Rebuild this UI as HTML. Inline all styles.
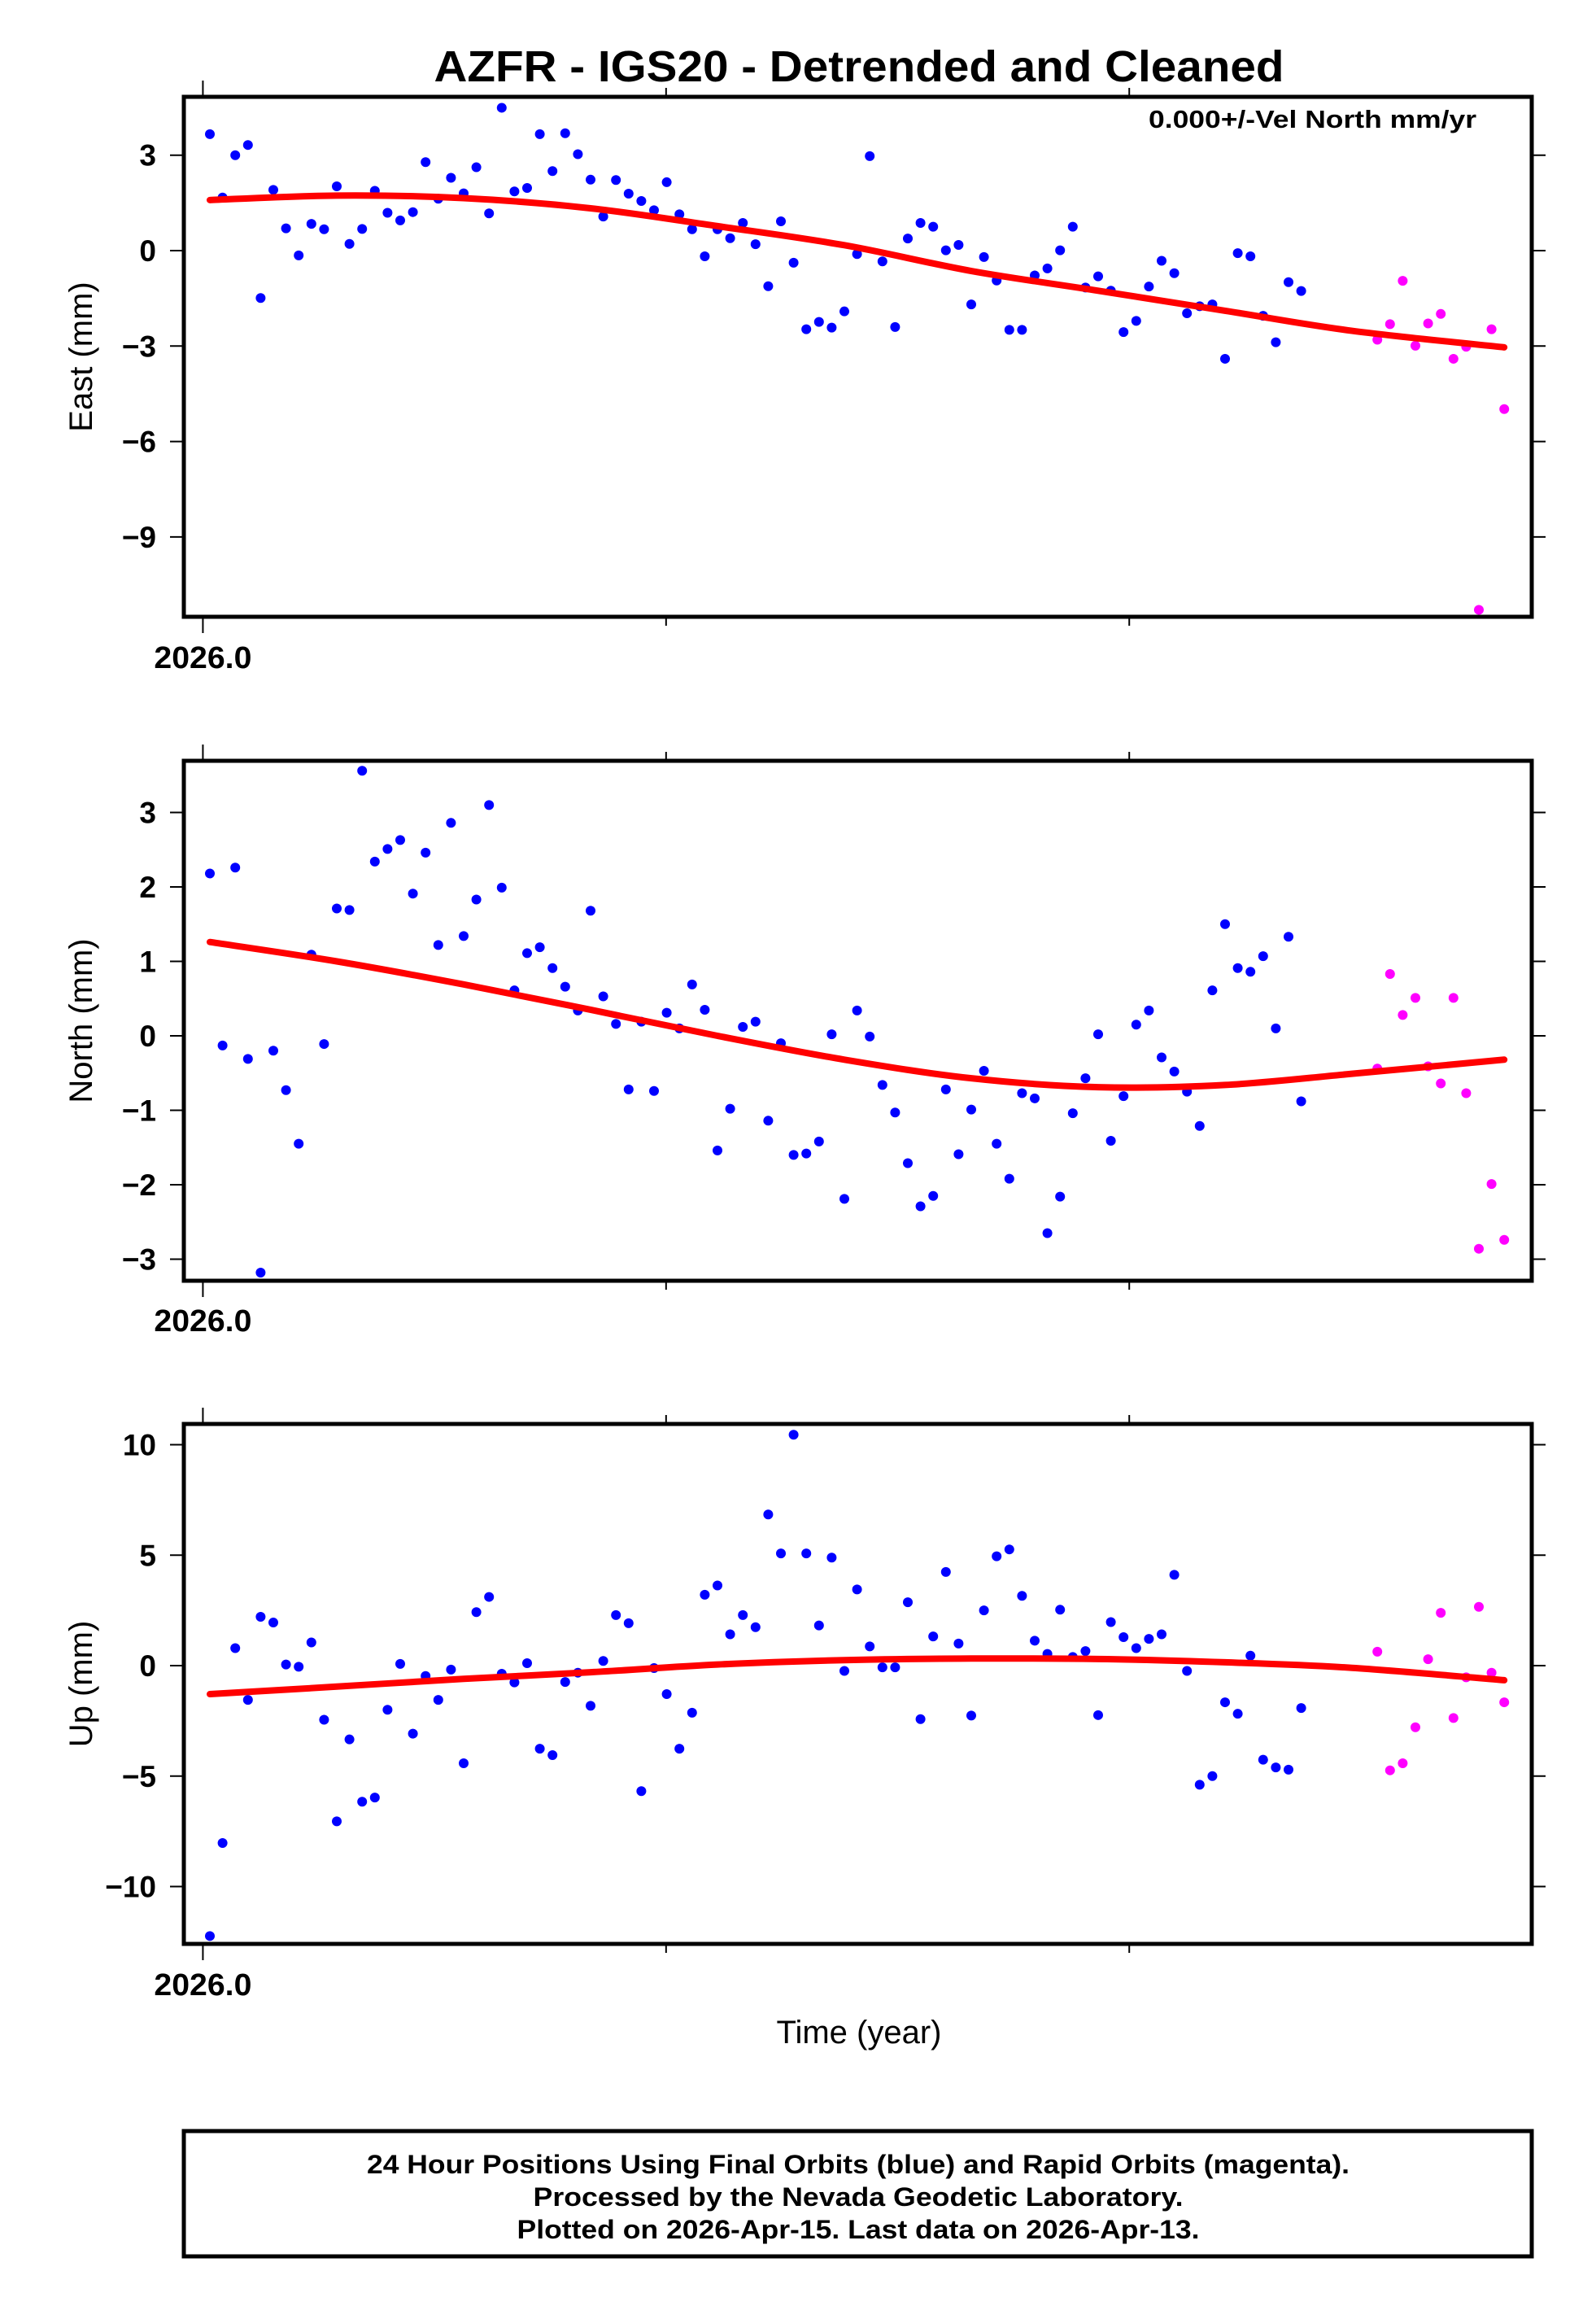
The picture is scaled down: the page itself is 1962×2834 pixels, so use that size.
<!DOCTYPE html>
<html><head><meta charset="utf-8">
<style>
html,body{margin:0;padding:0;background:#fff;}
svg{display:block;font-family:"Liberation Sans",Arial,sans-serif;}
</style></head>
<body>
<svg id="chart" width="1962" height="2834" viewBox="0 0 1962 2834" xmlns="http://www.w3.org/2000/svg"></svg>
<script>
// ---- data (day index since 2026.0) ----
const finalDays = [];
for (let d = 0; d <= 86; d++) finalDays.push(d);
const rapidDays = [92,93,94,95,96,97,98,99,100,101,102];

const eastFinal = [3.66,1.67,3.0,3.32,-1.49,1.91,0.70,-0.15,0.84,0.67,2.02,0.21,0.68,1.88,1.19,0.95,1.21,2.78,1.63,2.29,1.80,2.62,1.17,4.49,1.86,1.97,3.66,2.50,3.69,3.03,2.23,1.07,2.22,1.79,1.56,1.27,2.15,1.14,0.67,-0.18,0.67,0.39,0.87,0.20,-1.12,0.92,-0.38,-2.47,-2.24,-2.42,-1.91,-0.11,2.97,-0.34,-2.40,0.38,0.87,0.75,0.01,0.18,-1.69,-0.20,-0.94,-2.49,-2.49,-0.78,-0.56,0.01,0.75,-1.16,-0.81,-1.26,-2.56,-2.21,-1.13,-0.32,-0.71,-1.97,-1.75,-1.69,-3.40,-0.08,-0.18,-2.05,-2.88,-0.99,-1.27];
const eastRapid = [-2.80,-2.31,-0.95,-2.99,-2.29,-1.99,-3.40,-3.02,-11.29,-2.47,-4.98];
const northFinal = [2.18,-0.13,2.26,-0.31,-3.18,-0.20,-0.73,-1.45,1.09,-0.11,1.71,1.69,3.56,2.34,2.51,2.63,1.91,2.46,1.22,2.86,1.34,1.83,3.10,1.99,0.61,1.11,1.19,0.91,0.66,0.34,1.68,0.53,0.16,-0.72,0.19,-0.74,0.31,0.10,0.69,0.35,-1.54,-0.98,0.12,0.19,-1.14,-0.10,-1.60,-1.58,-1.42,0.02,-2.19,0.34,-0.01,-0.66,-1.03,-1.71,-2.29,-2.15,-0.72,-1.59,-0.99,-0.47,-1.45,-1.92,-0.77,-0.84,-2.65,-2.16,-1.04,-0.57,0.02,-1.41,-0.81,0.15,0.34,-0.29,-0.48,-0.75,-1.21,0.61,1.50,0.91,0.86,1.07,0.10,1.33,-0.88];
const northRapid = [-0.44,0.83,0.28,0.51,-0.41,-0.64,0.51,-0.77,-2.86,-1.99,-2.74];
const upFinal = [-12.24,-8.03,0.79,-1.55,2.21,1.95,0.05,-0.05,1.05,-2.45,-7.05,-3.34,-6.16,-5.97,-2.0,0.08,-3.08,-0.47,-1.55,-0.18,-4.42,2.42,3.11,-0.37,-0.76,0.11,-3.76,-4.05,-0.74,-0.32,-1.82,0.21,2.29,1.92,-5.68,-0.11,-1.29,-3.76,-2.13,3.21,3.63,1.42,2.29,1.74,6.84,5.08,10.45,5.08,1.82,4.89,-0.24,3.45,0.87,-0.08,-0.08,2.87,-2.42,1.32,4.24,1.0,-2.26,2.5,4.95,5.26,3.16,1.13,0.53,2.53,0.39,0.66,-2.24,1.97,1.29,0.79,1.21,1.42,4.11,-0.24,-5.39,-5.0,-1.66,-2.18,0.45,-4.26,-4.61,-4.71,-1.92];
const upRapid = [0.63,-4.74,-4.42,-2.79,0.29,2.39,-2.37,-0.53,2.66,-0.32,-1.66];

const fitDays = [0,10,20,30,40,50,60,70,80,90,102];
const eastFit = [1.59,1.73,1.65,1.33,0.77,0.17,-0.64,-1.26,-1.89,-2.52,-3.04];
const northFit = [1.26,1.0,0.69,0.35,0.0,-0.32,-0.57,-0.69,-0.66,-0.51,-0.32];
const upFit = [-1.29,-0.95,-0.6,-0.3,0.05,0.25,0.32,0.3,0.15,-0.1,-0.66];

const eastTicks = [3,0,-3,-6,-9];
const northTicks = [3,2,1,0,-1,-2,-3];
const upTicks = [10,5,0,-5,-10];
const xTickDays = [-0.55,35.95,72.45];
const xTickLabels = ["2026.0","",""];

// ---- layout ----
const NS = "http://www.w3.org/2000/svg";
const svg = document.getElementById('chart');
const L = 226, R = 1883;
function xScale(d){ return 258 + 15.6*d; }
function mk(tag, attrs, parent){
  const e = document.createElementNS(NS, tag);
  for (const k in attrs) e.setAttribute(k, attrs[k]);
  (parent||svg).appendChild(e);
  return e;
}
function txt(s, attrs, parent){ const t = mk('text', attrs, parent); t.textContent = s; return t; }

const title = txt("AZFR - IGS20 - Detrended and Cleaned", {x:1056, y:100, 'text-anchor':'middle', 'font-size':54, 'font-weight':'bold', textLength:1045, lengthAdjust:'spacingAndGlyphs'});



const panels = [
  {name:'east', label:'East (mm)', top:119, bottom:758, zero:308, unit:39.1, ticks:eastTicks, fin:eastFinal, rap:eastRapid, fit:eastFit, lab:821},
  {name:'north', label:'North (mm)', top:935, bottom:1574, zero:1273, unit:91.5, ticks:northTicks, fin:northFinal, rap:northRapid, fit:northFit, lab:1636},
  {name:'up', label:'Up (mm)', top:1750, bottom:2389, zero:2047, unit:27.15, ticks:upTicks, fin:upFinal, rap:upRapid, fit:upFit, lab:2452}
];

panels.forEach(p => {
  const g = mk('g', {});
  
  
  const yS = v => p.zero - v*p.unit;
  const cp = mk('clipPath', {id:'clip-'+p.name}, g);
  mk('rect', {x:L, y:p.top, width:R-L, height:p.bottom-p.top}, cp);
  p.ticks.forEach(t => {
    const y = yS(t);
    const tl = mk('line', {x1:L-17, x2:L, y1:y, y2:y, stroke:'#000', 'stroke-width':2}, g);
    
    
    const tr = mk('line', {x1:R, x2:R+17, y1:y, y2:y, stroke:'#000', 'stroke-width':2}, g);
    
    
    const lab = txt(String(t).replace('-', '\u2212'), {x:192, y:y+13, 'text-anchor':'end', 'font-size':37, 'font-weight':'bold'}, g);
    
    
  });
  xTickDays.forEach((d, i) => {
    const x = xScale(d);
    const len = i === 0 ? 20 : 11;
    const t1 = mk('line', {x1:x, x2:x, y1:p.top-len, y2:p.top, stroke:'#000', 'stroke-width':2}, g);
    
    
    const t2 = mk('line', {x1:x, x2:x, y1:p.bottom, y2:p.bottom+len, stroke:'#000', 'stroke-width':2}, g);
    
    
    if (xTickLabels[i]) {
      const xl = txt(xTickLabels[i], {x:x, y:p.lab, 'text-anchor':'middle', 'font-size':38, 'font-weight':'bold', textLength:120, lengthAdjust:'spacingAndGlyphs'}, g);
      
      
    }
  });
  const cy = (p.top + p.bottom)/2;
  const yt = txt(p.label, {x:0, y:0, 'text-anchor':'middle', 'font-size':40, transform:'translate(113,'+cy+') rotate(-90)'}, g);
  
  
  const pg = mk('g', {'clip-path':'url(#clip-'+p.name+')'}, g);
  p.fin.forEach((v, i) => {
    const c = mk('circle', {cx:xScale(finalDays[i]), cy:yS(v), r:6, fill:'#0000ff'}, pg);
    
    
  });
  p.rap.forEach((v, i) => {
    const c = mk('circle', {cx:xScale(rapidDays[i]), cy:yS(v), r:6, fill:'#ff00ff'}, pg);
    
    
  });
  const pts = fitDays.map((d, i) => [xScale(d), yS(p.fit[i])]);
  let dstr = 'M' + pts[0][0] + ',' + pts[0][1];
  for (let i = 0; i < pts.length-1; i++) {
    const p0 = pts[Math.max(0,i-1)], p1 = pts[i], p2 = pts[i+1], p3 = pts[Math.min(pts.length-1,i+2)];
    const c1 = [p1[0]+(p2[0]-p0[0])/6, p1[1]+(p2[1]-p0[1])/6];
    const c2 = [p2[0]-(p3[0]-p1[0])/6, p2[1]-(p3[1]-p1[1])/6];
    dstr += ' C' + c1.join(',') + ' ' + c2.join(',') + ' ' + p2.join(',');
  }
  const fl = mk('path', {d:dstr, fill:'none', stroke:'#ff0000', 'stroke-width':8, 'stroke-linecap':'round'}, g);
  
  
  const fr = mk('rect', {x:L, y:p.top, width:R-L, height:p.bottom-p.top, fill:'none', stroke:'#000', 'stroke-width':5}, g);
  
  
});

const vel = txt("0.000+/-Vel North mm/yr", {x:1815, y:157, 'text-anchor':'end', 'font-size':31, 'font-weight':'bold', textLength:403, lengthAdjust:'spacingAndGlyphs'});



const xt = txt("Time (year)", {x:1056, y:2511, 'text-anchor':'middle', 'font-size':40});



const box = mk('rect', {x:L, y:2619, width:R-L, height:154, fill:'none', stroke:'#000', 'stroke-width':5});


const lines = [
  ["24 Hour Positions Using Final Orbits (blue) and Rapid Orbits (magenta).", 2671, 1208],
  ["Processed by the Nevada Geodetic Laboratory.", 2711, 799],
  ["Plotted on 2026-Apr-15. Last data on 2026-Apr-13.", 2751, 839]
];
lines.forEach(l => {
  const t = txt(l[0], {x:1055, y:l[1], 'text-anchor':'middle', 'font-size':32, 'font-weight':'bold', textLength:l[2], lengthAdjust:'spacingAndGlyphs'});
  
  
});
</script>
</body></html>
